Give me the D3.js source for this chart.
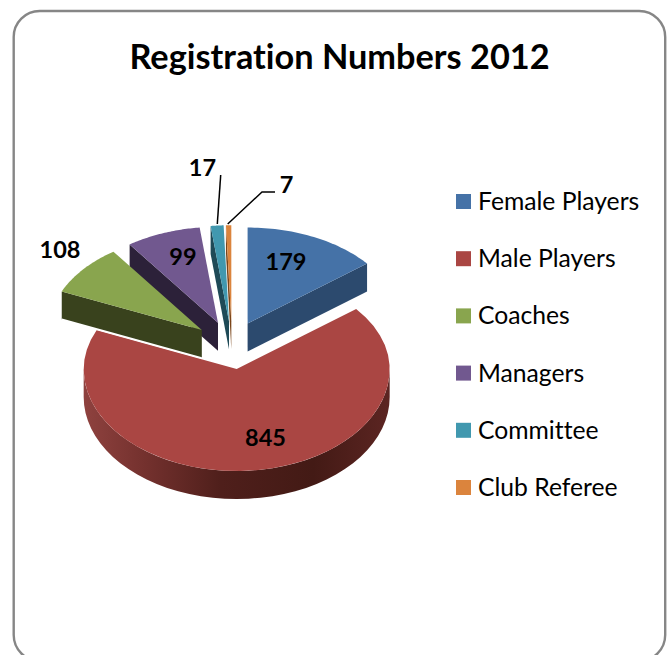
<!DOCTYPE html>
<html><head><meta charset="utf-8">
<script src="https://cdn.jsdelivr.net/npm/d3@7"></script>
<style>html,body{margin:0;padding:0;background:#fff}svg{display:block}text{font-family:Lato,"Open Sans",sans-serif;font-variant-ligatures:none}</style>
</head><body><svg id="c" width="671" height="655"></svg>
<script>
const categories = ["Female Players","Male Players","Coaches","Managers","Committee","Club Referee"];
const values = [179,845,108,99,17,7];
const topColors = ["#4572a7","#aa4643","#89a54e","#71588f","#4198af","#db843d"];
const wallColors = ["#2c4a6e","#5a2522","#39421d","#2c2139","#1f4a57","#7a4519"];
const chartTitle = "Registration Numbers 2012";

const W=671,H=655;
const cx=232, cy=345.2, rx=153, ryBack=96, ryFront=102, depth=28, explodeRight=36, explodeLeft=39, explodeY=24;
const svg=d3.select("#c");
const defs=svg.append("defs");
const grad=defs.append("linearGradient").attr("id","sideRed").attr("gradientUnits","userSpaceOnUse")
  .attr("x1",83).attr("x2",390).attr("y1",0).attr("y2",0);
[[0,"#8f423f"],[0.2,"#74312e"],[0.45,"#4f1f1b"],[0.75,"#431a15"],[1,"#5c2522"]].forEach(s=>grad.append("stop").attr("offset",s[0]).attr("stop-color",s[1]));

svg.append("rect").attr("x",13.7).attr("y",11).attr("width",651.5).attr("height",650).attr("rx",26)
  .attr("fill","#fff").attr("stroke","#868686").attr("stroke-width",2.4);

svg.append("text").attr("x",339.5).attr("y",69).attr("text-anchor","middle").attr("font-size",34.3).attr("font-weight",700).attr("fill","#000").text(chartTitle);

const pie=d3.pie().sort(null).value(d=>d).startAngle(0).endAngle(2*Math.PI);
const arcs=pie(values);
const line=d3.line();
const steps=a=>d3.range(0,41).map(i=>a[0]+(a[1]-a[0])*i/40);
const pt=(o,a,z=0)=>{const c=Math.cos(a);return [o.x+rx*Math.sin(a), o.y-(c>0?ryBack:ryFront)*c+z];};
const origin=d=>{const m=(d.startAngle+d.endAngle)/2,s=Math.sin(m);return {x:cx+(s<0?explodeLeft:explodeRight)*s,y:cy-explodeY*Math.cos(m)};};

function drawSlice(i){
  const d=arcs[i],o=origin(d),g=svg.append("g");
  const apex=[o.x,o.y],apexB=[o.x,o.y+depth];
  const wall=a=>{const p=pt(o,a);g.append("path").attr("d",line([apex,p,[p[0],p[1]+depth],apexB])+"Z").attr("fill",wallColors[i]);};
  if(Math.sin(d.startAngle)<0) wall(d.startAngle);
  if(Math.sin(d.endAngle)>1e-6) wall(d.endAngle);
  const a0=Math.max(d.startAngle,Math.PI/2),a1=Math.min(d.endAngle,3*Math.PI/2);
  if(a1>a0){
    const as=steps([a0,a1]);
    g.append("path").attr("d",line(as.map(a=>pt(o,a)).concat(as.slice().reverse().map(a=>pt(o,a,depth))))+"Z").attr("fill","url(#sideRed)");
  }
  g.append("path").attr("d",line([apex].concat(steps([d.startAngle,d.endAngle]).map(a=>pt(o,a))))+"Z").attr("fill",topColors[i]);
  if(i===2){
    const p=pt(o,d.startAngle);
    g.append("path").attr("d",line([[p[0],p[1]+depth],apexB])).attr("stroke","#fff").attr("stroke-width",1.6).attr("fill","none");
  }
}
[1,0,5,4,3,2].forEach(drawSlice);

// data labels
const labelSpots=[[286,270],[265.5,446],[60,258],[183,265],[202.5,176],[286.5,193]];
values.forEach((v,i)=>svg.append("text").attr("x",labelSpots[i][0]).attr("y",labelSpots[i][1]).attr("text-anchor","middle")
  .attr("font-size",23.5).attr("font-weight",700).attr("fill","#000").text(v));

// leader lines
const leaders=[[[220.7,175],[217.3,224]],[[275,192],[262,192],[227.7,224]]];
leaders.forEach(l=>svg.append("path").attr("d",line(l)).attr("fill","none").attr("stroke","#000").attr("stroke-width",1.5));

// legend
const legendY=d3.scalePoint().domain(categories).range([201.5,487.5]);
const lg=svg.append("g").selectAll("g").data(categories).join("g").attr("transform",d=>`translate(456,${legendY(d)})`);
lg.append("rect").attr("x",0).attr("y",-7.5).attr("width",15).attr("height",15).attr("fill",(d,i)=>topColors[i]);
lg.append("text").attr("x",22).attr("y",8.5).attr("font-size",24.7).attr("fill","#000").text(d=>d);
</script></body></html>
